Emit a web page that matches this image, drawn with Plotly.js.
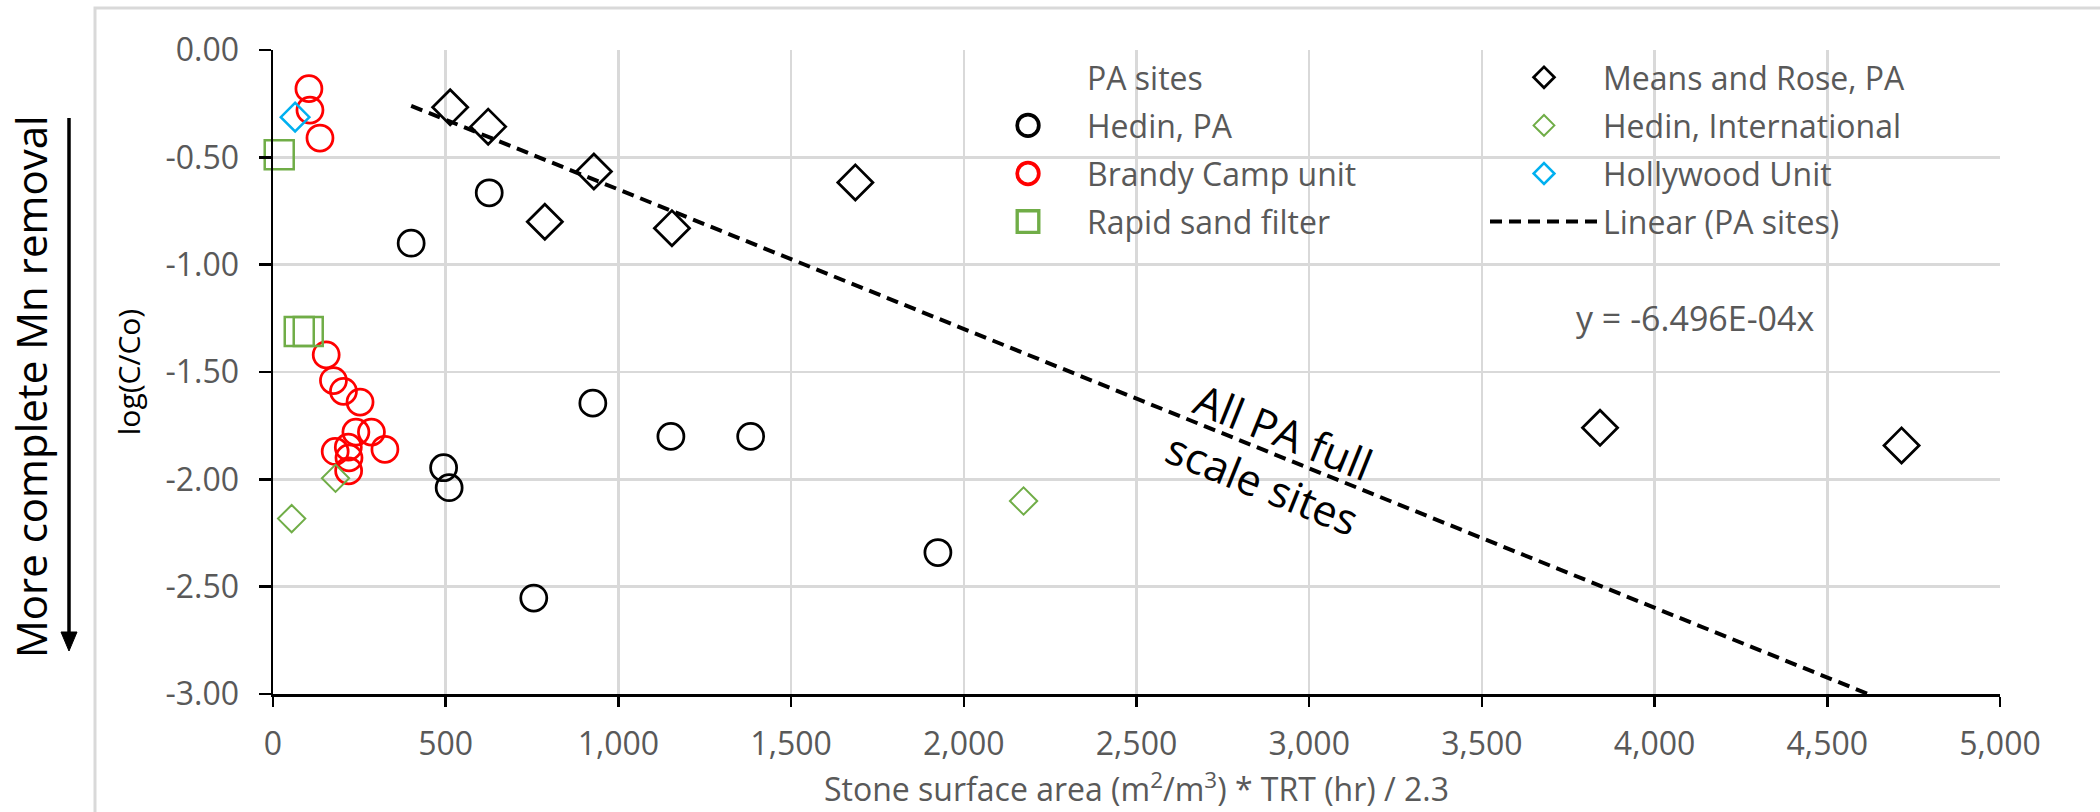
<!DOCTYPE html>
<html><head><meta charset="utf-8">
<script src="https://cdn.plot.ly/plotly-3.0.1.min.js"></script>
<style>html,body{margin:0;padding:0;background:#fff;} #chart{width:2100px;height:812px;}</style>
</head><body><div id="chart"></div><script>
// ---- data ----
const hedinPA_x = [400, 626, 926, 1152, 1383, 494, 510, 755, 1925];
const hedinPA_y = [-0.90, -0.665, -1.645, -1.80, -1.80, -1.946, -2.039, -2.553, -2.341];
const brandy_x = [104, 107, 136, 154, 175, 204, 252, 240, 285, 324, 180, 218, 220, 219];
const brandy_y = [-0.18, -0.28, -0.41, -1.42, -1.54, -1.59, -1.64, -1.78, -1.78, -1.86, -1.87, -1.85, -1.90, -1.96];
const rapid_x = [18, 76, 102];
const rapid_y = [-0.488, -1.311, -1.311];
const means_x = [513, 623, 787, 929, 1155, 1686, 3842, 4715];
const means_y = [-0.267, -0.357, -0.80, -0.566, -0.83, -0.617, -1.76, -1.842];
const intl_x = [54, 181, 2173];
const intl_y = [-2.183, -1.995, -2.101];
const holly_x = [64];
const holly_y = [-0.313];
const trendSlope = -6.496e-4;
const xTickVals = [0, 500, 1000, 1500, 2000, 2500, 3000, 3500, 4000, 4500, 5000];
const xTickText = ['0', '500', '1,000', '1,500', '2,000', '2,500', '3,000', '3,500', '4,000', '4,500', '5,000'];
const yTickVals = [0, -0.5, -1, -1.5, -2, -2.5, -3];
const yTickText = ['0.00', '-0.50', '-1.00', '-1.50', '-2.00', '-2.50', '-3.00'];

// ---- geometry helpers ----
const W = 2100, H = 812, M = {l: 273, r: 100, t: 50, b: 118};
const PW = W - M.l - M.r, PH = H - M.t - M.b;
const px2x = p => (p - M.l) / PW;
const px2y = p => 1 - (p - M.t) / PH;

const FONT = 'Open Sans';
const GREY = '#595959';

// PA sites (full scale) used for the linear fit
const paX = hedinPA_x.concat(means_x);
const paY = hedinPA_y.concat(means_y);
const tX = [Math.min(...paX), Math.max(...paX)];
const tY = tX.map(v => trendSlope * v);

const traces = [
  {name: 'PA sites', x: paX, y: paY, mode: 'markers', legend: 'legend', legendgroup: 'g0',
   marker: {size: 1, color: 'rgba(0,0,0,0)'}, hoverinfo: 'skip'},
  {name: 'Hedin, PA', x: hedinPA_x, y: hedinPA_y, mode: 'markers', legend: 'legend', legendgroup: 'g1', cliponaxis: false,
   marker: {symbol: 'circle-open', size: 26, color: '#000000', line: {width: 2.75, color: '#000000'}}},
  {name: 'Brandy Camp unit', x: brandy_x, y: brandy_y, mode: 'markers', legend: 'legend', legendgroup: 'g2', cliponaxis: false,
   marker: {symbol: 'circle-open', size: 26, color: '#ff0000', line: {width: 2.75, color: '#ff0000'}}},
  {name: 'Rapid sand filter', x: rapid_x, y: rapid_y, mode: 'markers', legend: 'legend', legendgroup: 'g3', cliponaxis: false,
   marker: {symbol: 'square-open', size: 29, color: '#70ad47', line: {width: 2.5, color: '#70ad47'}}},
  {name: 'Means and Rose, PA', x: means_x, y: means_y, mode: 'markers', legend: 'legend2', legendgroup: 'h0', cliponaxis: false,
   marker: {symbol: 'diamond-open', size: 27, color: '#000000', line: {width: 2.75, color: '#000000'}}},
  {name: 'Hedin, International', x: intl_x, y: intl_y, mode: 'markers', legend: 'legend2', legendgroup: 'h1', cliponaxis: false,
   marker: {symbol: 'diamond-open', size: 21, color: '#70ad47', line: {width: 2, color: '#70ad47'}}},
  {name: 'Hollywood Unit', x: holly_x, y: holly_y, mode: 'markers', legend: 'legend2', legendgroup: 'h2', cliponaxis: false,
   marker: {symbol: 'diamond-open', size: 22, color: '#00b0f0', line: {width: 2.5, color: '#00b0f0'}}},
  {name: 'Linear (PA sites)', x: tX, y: tY, mode: 'lines', legend: 'legend2', legendgroup: 'h3',
   line: {color: '#000000', width: 4, dash: '12px,7px'}, hoverinfo: 'skip'}
];

const legendBase = {
  xanchor: 'left', yanchor: 'top', y: 1.0, bgcolor: 'rgba(0,0,0,0)', borderwidth: 0,
  font: {family: FONT, size: 32, color: GREY}, itemwidth: 108, tracegroupgap: 3.5, traceorder: 'grouped'
};

const axisBase = {
  showgrid: true, gridcolor: '#d9d9d9', gridwidth: 2.5, zeroline: false,
  showline: true, linecolor: '#000000', linewidth: 2.5,
  ticks: 'outside', tickcolor: '#000000', tickwidth: 2.5,
  tickfont: {family: FONT, size: 32, color: GREY}, tickmode: 'array', fixedrange: true
};

const layout = {
  width: W, height: H, margin: M, paper_bgcolor: '#ffffff', plot_bgcolor: '#ffffff',
  showlegend: true,
  xaxis: Object.assign({}, axisBase, {
    range: [0, 5000], tickvals: xTickVals, ticktext: xTickText, ticklen: 10, ticklabelstandoff: 10,
    title: {text: 'Stone surface area (m<sup>2</sup>/m<sup>3</sup>) * TRT (hr) / 2.3',
            font: {family: FONT, size: 32, color: GREY}, standoff: 12}
  }),
  yaxis: Object.assign({}, axisBase, {
    range: [-3, 0], tickvals: yTickVals, ticktext: yTickText, ticklen: 12, ticklabelstandoff: 13,
    title: {text: 'log(C/Co)', font: {family: FONT, size: 30, color: '#000000'}, standoff: 16}
  }),
  legend: Object.assign({}, legendBase, {x: px2x(969)}),
  legend2: Object.assign({}, legendBase, {x: px2x(1485)}),
  annotations: [
    {text: 'More complete Mn removal', xref: 'paper', yref: 'paper', x: px2x(30), y: px2y(387),
     xanchor: 'center', yanchor: 'middle', textangle: -90, showarrow: false,
     font: {family: FONT, size: 42, color: '#000000'}},
    {text: 'All PA full<br>scale sites', xref: 'paper', yref: 'paper', x: px2x(1273), y: px2y(457),
     xanchor: 'center', yanchor: 'middle', textangle: 22, showarrow: false,
     font: {family: FONT, size: 43, color: '#000000'}},
    {text: 'y = -6.496E-04x', xref: 'paper', yref: 'paper', x: px2x(1574), y: px2y(318),
     xanchor: 'left', yanchor: 'middle', showarrow: false,
     font: {family: FONT, size: 34, color: GREY}}
  ],
  shapes: [
    {type: 'rect', xref: 'paper', yref: 'paper', x0: px2x(95), x1: px2x(2120), y0: px2y(8), y1: px2y(830),
     line: {color: '#d9d9d9', width: 3}, fillcolor: 'rgba(0,0,0,0)', layer: 'below'},
    {type: 'line', xref: 'paper', yref: 'paper', x0: px2x(69), x1: px2x(69), y0: px2y(118), y1: px2y(636),
     line: {color: '#000000', width: 3.5}},
    {type: 'path', xref: 'paper', yref: 'paper',
     path: 'M' + px2x(61) + ',' + px2y(632) + ' L' + px2x(77) + ',' + px2y(632) + ' L' + px2x(69) + ',' + px2y(651) + ' Z',
     fillcolor: '#000000', line: {color: '#000000', width: 1}}
  ]
};

Plotly.newPlot('chart', traces, layout, {displayModeBar: false, staticPlot: true}).then(function () {
  // enlarge legend symbols (Plotly caps them at 16px) to match the reference legend
  document.querySelectorAll('.legend .legendpoints path.scatterpts').forEach(function (p) {
    var sym = '';
    try { sym = p.closest('.traces').__data__[0].trace.marker.symbol || ''; } catch (e) {}
    var k = sym.indexOf('diamond') === 0 ? 1.12 : 1.35;
    var t = p.getAttribute('transform') || '';
    p.setAttribute('transform', t + ' scale(' + k + ')');
  });
});
</script></body></html>
